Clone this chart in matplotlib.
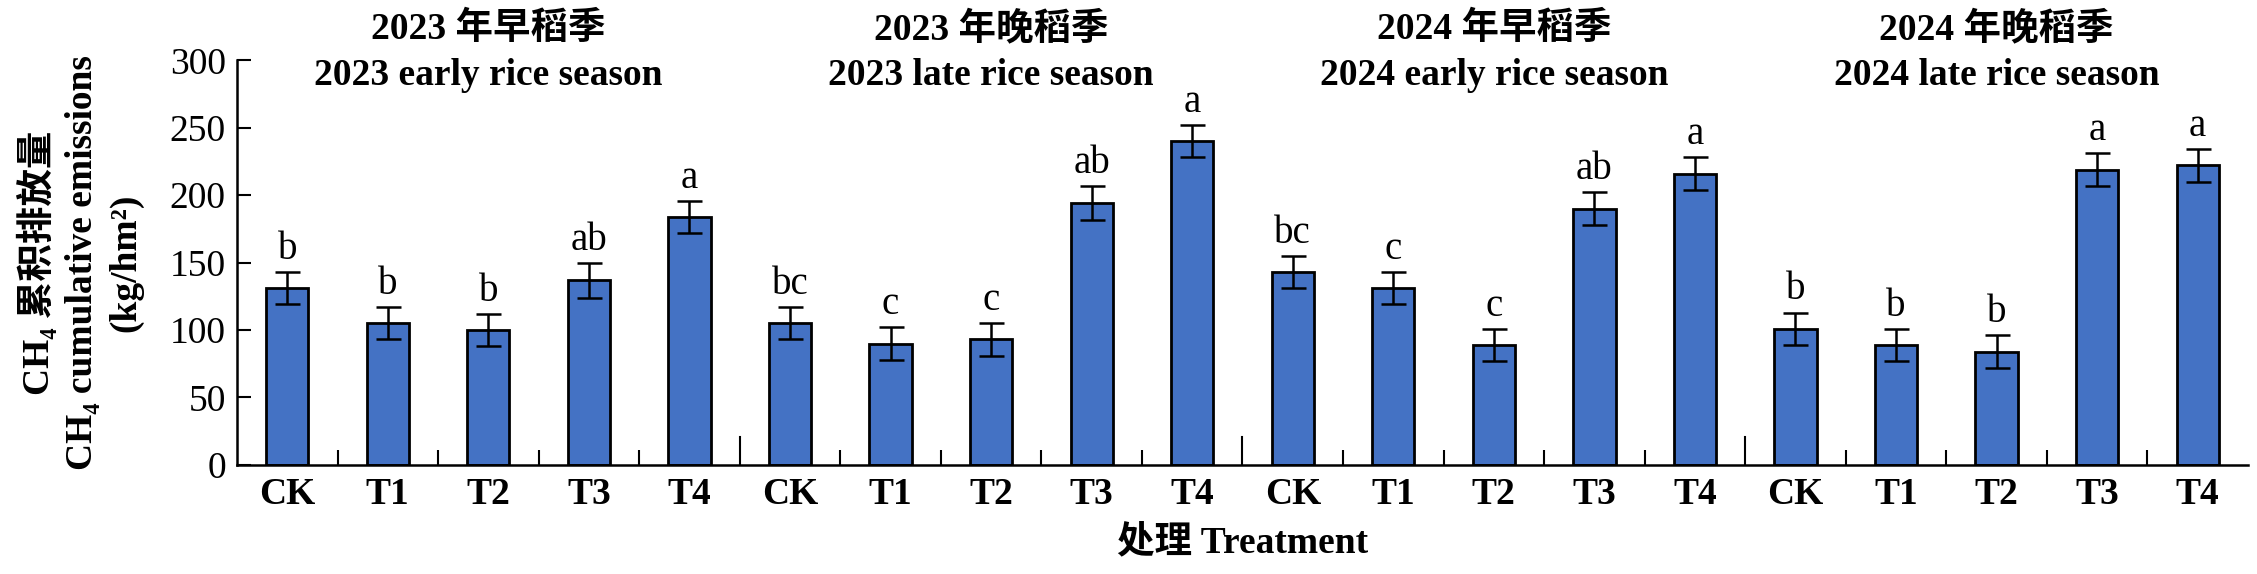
import matplotlib
matplotlib.use("Agg")
import matplotlib.pyplot as plt
import numpy as np

plt.rcParams["font.family"] = ["Liberation Serif", "Noto Sans CJK SC", "DejaVu Serif"]

# data
treatments = ["CK", "T1", "T2", "T3", "T4"]
season_cn = ["2023 年早稻季", "2023 年晚稻季", "2024 年早稻季", "2024 年晚稻季"]
season_en = ["2023 early rice season", "2023 late rice season",
             "2024 early rice season", "2024 late rice season"]

early_2023 = [131, 105, 100, 137, 184]
late_2023 = [105, 90, 93, 194, 240]
early_2024 = [143, 131, 89, 190, 216]
late_2024 = [101, 89, 84, 219, 222]

err_early_2023 = [12, 12, 12, 13, 12]
err_late_2023 = [12, 12, 12, 12.5, 12]
err_early_2024 = [12, 12, 12, 12, 12]
err_late_2024 = [12, 12, 12, 12, 12]

letters_early_2023 = ["b", "b", "b", "ab", "a"]
letters_late_2023 = ["bc", "c", "c", "ab", "a"]
letters_early_2024 = ["bc", "c", "c", "ab", "a"]
letters_late_2024 = ["b", "b", "b", "a", "a"]

values = early_2023 + late_2023 + early_2024 + late_2024
errors = err_early_2023 + err_late_2023 + err_early_2024 + err_late_2024
letters = letters_early_2023 + letters_late_2023 + letters_early_2024 + letters_late_2024
labels = treatments * 4

FS = 27
fig = plt.figure(figsize=(22.57, 5.74), dpi=100)
ax = fig.add_axes([0.105, 0.19, 0.891, 0.705])

x = np.arange(len(values))
ax.bar(x, values, width=0.42, color="#4472C4", edgecolor="black", linewidth=2.0,
       yerr=errors, error_kw=dict(ecolor="black", elinewidth=1.8, capsize=9, capthick=1.8),
       zorder=2)

for xi, v, e, lab in zip(x, values, errors, letters):
    ax.text(xi, v + e + 3, lab, ha="center", va="bottom", fontsize=FS + 1)

n = len(treatments)
for g in range(4):
    cx = g * n + (n - 1) / 2
    ax.text(cx, 323, season_cn[g], ha="center", va="center", fontsize=FS, fontweight="bold")
    ax.text(cx, 289, season_en[g], ha="center", va="center", fontsize=FS, fontweight="bold")
    if g > 0:
        ax.axvline(g * n - 0.5, ymin=0, ymax=0.07, color="black", linewidth=1.5)

ax.set_xlim(-0.5, len(values) - 0.5)
ax.set_ylim(0, 300)
ax.set_yticks(np.arange(0, 301, 50))
ax.set_xticks(x)
ax.set_xticklabels(labels, fontsize=FS, fontweight="bold")
minor = [b + 0.5 for b in range(len(values) - 1) if (b + 1) % n != 0]
ax.set_xticks(minor, minor=True)
ax.tick_params(axis="x", which="major", length=0, pad=9)
ax.tick_params(axis="x", which="minor", direction="in", length=11, width=1.5)
ax.tick_params(axis="y", direction="in", length=10, width=1.5, labelsize=FS, pad=8)

for side in ["top", "right"]:
    ax.spines[side].set_visible(False)
for side in ["left", "bottom"]:
    ax.spines[side].set_linewidth(1.8)

ax.set_xlabel("处理 Treatment", fontsize=FS, fontweight="bold", labelpad=9)
fig.text(0.0354, 0.543, "CH₄ 累积排放量\nCH₄ cumulative emissions\n(kg/hm²)",
         rotation=90, ha="center", va="center", multialignment="center",
         fontsize=FS, fontweight="bold", linespacing=1.3)

fig.savefig("out.png", dpi=100)
